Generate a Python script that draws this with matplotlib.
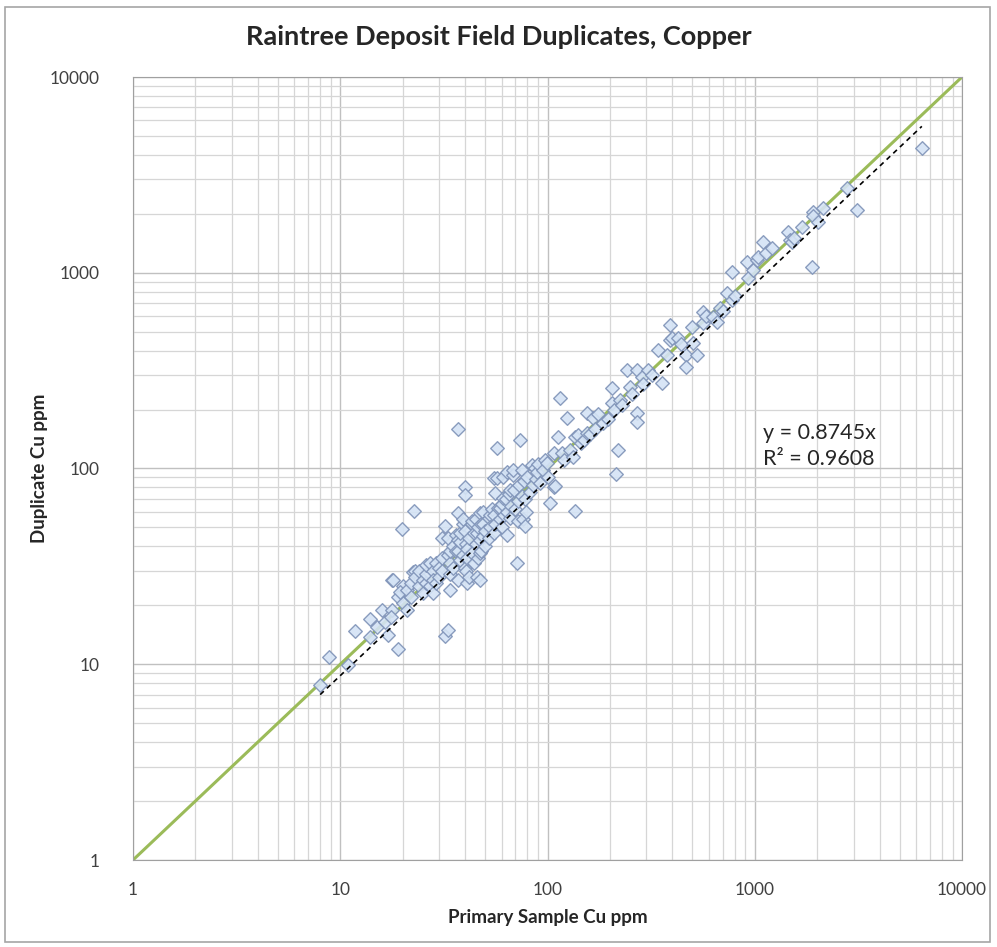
import numpy as np
import matplotlib.pyplot as plt
from matplotlib.patches import Rectangle
from matplotlib.ticker import FixedLocator, LogLocator, NullFormatter

plt.rcParams['font.family'] = ['Lato', 'DejaVu Sans']

# primary vs duplicate Cu ppm
primary = [8, 8.8, 10.9, 11.8, 13.9, 13.9, 15, 15.9, 17, 17.8, 19, 17.8, 19.9, 16.5, 17.5, 19, 20, 20, 21, 19.5,
           18, 22.5, 21, 22, 22, 22.7, 23, 23, 24, 24, 25, 25, 26, 26, 26, 27, 27, 28, 28, 28,
           29, 29, 30, 30, 31, 31, 31, 32, 32, 33, 33, 33, 34, 34, 34, 34, 35, 35, 36, 36,
           37, 37, 37, 37, 37, 38, 38, 38, 39, 39, 39, 40, 40, 40, 40, 40.5, 40.5, 41, 41, 41,
           42, 42, 43, 43, 43, 44, 44, 45, 45, 45.7, 45.7, 46, 46, 47, 47, 47, 47, 48, 48, 49,
           49, 49, 50, 50,
           52, 52, 52.7, 53, 54, 55, 55, 55, 56, 56, 57, 57, 58, 59, 59, 60, 60, 61, 61, 62,
           63, 64, 64, 64, 65, 66, 66, 67, 68, 68, 69, 70, 71, 72, 72, 73, 74, 75, 75, 76,
           77, 78, 78, 79, 80, 82, 84, 85, 87, 88, 89, 90, 92, 95, 97, 99, 100, 103, 107, 107,
           109, 112, 115, 117, 120, 124, 128, 133, 135, 135, 140, 145, 150, 155, 155, 160, 165, 170, 175, 185,
           195, 205, 205, 210, 215, 218, 224, 230, 242, 250, 255, 270, 270, 270, 285, 290, 305, 320, 341, 357,
           377, 390, 390, 400, 426, 440, 466, 466, 498, 505, 526, 563, 563, 580, 629, 660, 680, 700, 735, 777,
           777, 800, 918, 930, 985, 1026, 1037, 1097, 1137, 1210, 1446, 1480, 1510, 1550, 1690, 1890, 1910, 1910, 2020, 2135,
           2800, 3100, 6400]
duplicate = [7.8, 10.9, 9.9, 14.8, 13.8, 17, 15.5, 18.9, 14.1, 19, 12, 27, 49, 16.5, 17.5, 22, 20.5, 25, 19, 23.5,
             27, 29.6, 24, 26, 22, 61, 30, 28, 25, 30, 27, 23, 26, 29, 32, 25, 33, 30, 27, 23,
             33, 26, 31, 28, 35, 30, 44, 51, 14, 15, 44, 36, 29, 33, 38, 24, 40, 31, 38, 46,
             160, 59, 27, 38, 43, 42, 34, 47, 36, 52, 55, 80, 73, 48, 31, 41, 30, 39, 26, 35,
             44, 28, 52, 37, 54, 47, 33, 41, 55, 28, 47, 35, 50, 43, 27, 59, 37, 52, 38, 45,
             60, 52, 48, 40,
             56, 44, 58, 50, 62, 47, 58, 89, 52, 75, 127, 89, 63, 55, 63, 66, 50, 71, 90, 58,
             70, 60, 96, 46, 74, 56, 78, 64, 93, 98, 78, 62, 33, 68, 54, 82, 140, 72, 98, 55,
             86, 70, 51, 60, 90, 76, 104, 82, 100, 88, 96, 105, 84, 98, 110, 107, 90, 67, 120, 80,
             81, 145, 229, 120, 110, 181, 124, 115, 145, 61, 148, 135, 140, 152, 192, 150, 181, 160, 190, 171,
             180, 258, 216, 200, 94, 125, 224, 210, 318, 261, 240, 318, 192, 173, 293, 270, 318, 300, 403, 273,
             380, 540, 453, 464, 464, 430, 380, 330, 528, 437, 380, 556, 630, 600, 594, 560, 660, 640, 788, 726,
             1009, 760, 1135, 940, 1033, 1159, 1204, 1436, 1262, 1337, 1616, 1470, 1436, 1500, 1714, 1070, 2050, 1940, 1816, 2150,
             2700, 2100, 4350]

slope = 0.8745
r2 = 0.9608
ticks = [1, 10, 100, 1000, 10000]
tick_labels = ['1', '10', '100', '1000', '10000']

fig = plt.figure(figsize=(9.97, 9.47), dpi=100)
ax = fig.add_axes([133/997, 87/947, 829/997, 783/947])

ax.set_xscale('log')
ax.set_yscale('log')
ax.set_xlim(1, 10000)
ax.set_ylim(1, 10000)

ax.xaxis.set_major_locator(FixedLocator(ticks))
ax.yaxis.set_major_locator(FixedLocator(ticks))
ax.xaxis.set_minor_locator(LogLocator(base=10, subs=np.arange(2, 10)))
ax.yaxis.set_minor_locator(LogLocator(base=10, subs=np.arange(2, 10)))
ax.xaxis.set_minor_formatter(NullFormatter())
ax.yaxis.set_minor_formatter(NullFormatter())
ax.set_xticklabels(tick_labels)
ax.set_yticklabels(tick_labels)

ax.grid(which='major', color='#c0c0c0', lw=1.0)
ax.grid(which='minor', color='#d6d6d6', lw=0.9)
ax.set_axisbelow(True)
ax.tick_params(which='both', length=0, labelsize=12.5, labelcolor='#404040')
ax.tick_params(axis='x', pad=16)
ax.tick_params(axis='y', pad=24)
for s in ax.spines.values():
    s.set_color('#a0a0a0')

# 1:1 line
ax.plot([1, 10000], [1, 10000], color='#9bbb59', lw=2.2, zorder=2)

# scatter
ax.scatter(primary, duplicate, marker='D', s=48, facecolor='#d4e3f5', edgecolor='#7f93b8',
           linewidths=1.0, alpha=0.9, zorder=3)

# trendline
xs = np.array([min(primary), max(primary)])
ax.plot(xs, slope * xs, color='black', ls=(0, (3, 2.5)), lw=1.2, zorder=4)

ax.text(763/997, 1 - 446/947, 'y = %.4fx\nR² = %.4f' % (slope, r2), transform=fig.transFigure,
        fontsize=15.5, color='#262626', va='center', ha='left', linespacing=1.35)

ax.set_xlabel('Primary Sample Cu ppm', fontsize=13.5, fontweight='bold', color='#262626', labelpad=8)
ax.set_ylabel('Duplicate Cu ppm', fontsize=13.5, fontweight='bold', color='#262626', labelpad=1)
fig.text(0.5, 0.961, 'Raintree Deposit Field Duplicates, Copper', ha='center', va='center',
         fontsize=19.5, fontweight='bold', color='#262626')

fig.patches.append(Rectangle((5/997, 5/947), 985/997, 935/947, transform=fig.transFigure,
                             fill=False, edgecolor='#a6a6a6', lw=1.2))

fig.savefig('out.png', dpi=100)
